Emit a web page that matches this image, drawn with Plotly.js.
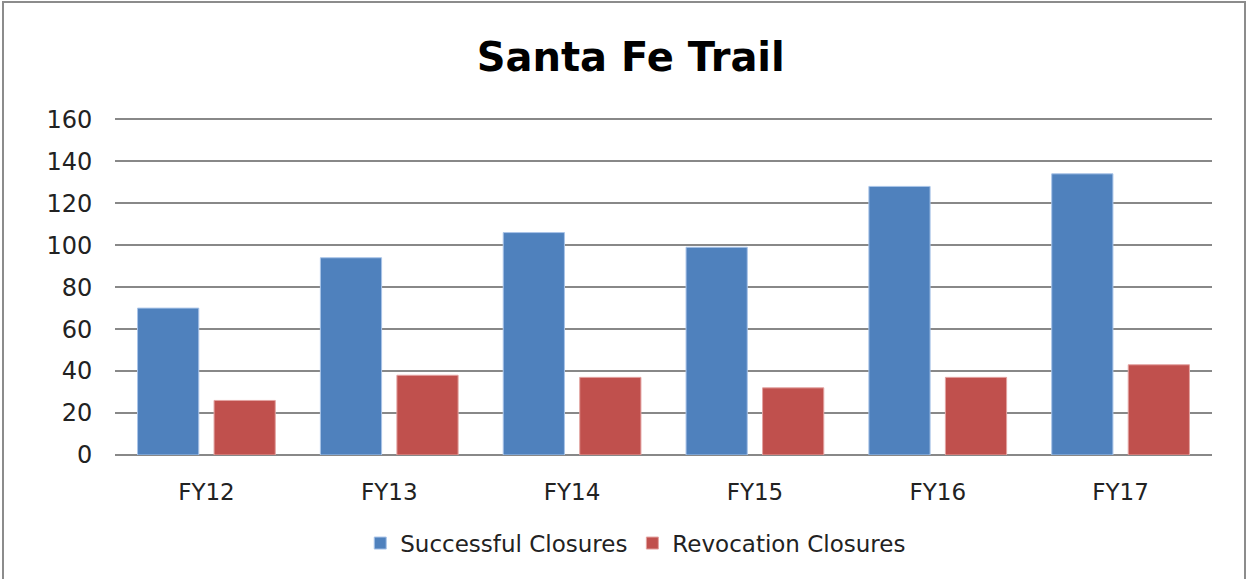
<!DOCTYPE html>
<html>
<head>
<meta charset="utf-8">
<script src="https://cdn.plot.ly/plotly-3.0.1.min.js"></script>
<style>
html,body{margin:0;padding:0;background:#fff;}
#frame{position:absolute;left:2px;top:1px;width:1244px;height:600px;border:2px solid #8c8c8c;box-sizing:border-box;}
#chart{position:absolute;left:0;top:0;width:1249px;height:579px;}
</style>
</head>
<body>
<div id="frame"></div>
<div id="chart"></div>
<script>
const categories = ["FY12","FY13","FY14","FY15","FY16","FY17"];
const successful = [70, 94, 106, 99, 128, 134];
const revocation = [26, 38, 37, 32, 37, 43];
const seriesNames = ["Successful Closures","Revocation Closures"];
const yTicks = [0,20,40,60,80,100,120,140,160];

const font = "'DejaVu Sans', sans-serif";
const traces = [
  {type:'bar', name:seriesNames[0], x:categories, y:successful,
   marker:{color:'#4f81bd', line:{color:'#a9c4e8', width:1}}},
  {type:'bar', name:seriesNames[1], x:categories, y:revocation,
   marker:{color:'#c0504d', line:{color:'#e3a3a1', width:1}}}
];
const layout = {
  width:1249, height:579,
  paper_bgcolor:'rgba(0,0,0,0)', plot_bgcolor:'rgba(0,0,0,0)',
  margin:{l:115, r:37, t:118, b:124},
  title:{text:'<b>Santa Fe Trail</b>', font:{family:font, size:40, color:'#000'},
         x:0.505, xanchor:'center', y:0.902, yref:'container', yanchor:'middle'},
  barmode:'group', bargap:0.163, bargroupgap:0.2,
  xaxis:{type:'category', showgrid:false, zeroline:false, showline:false,
         ticks:'outside', ticklen:16, tickcolor:'rgba(0,0,0,0)',
         tickfont:{family:font, size:23, color:'#222'}},
  yaxis:{range:[0,160.6], tickvals:yTicks, showgrid:true, gridcolor:'#888', gridwidth:2,
         zeroline:true, zerolinecolor:'#888', zerolinewidth:2, showline:false,
         ticks:'outside', ticklen:17, tickcolor:'rgba(0,0,0,0)',
         tickfont:{family:font, size:24, color:'#222'}},
  showlegend:true,
  legend:{orientation:'h', xref:'container', yref:'container', x:0.509, xanchor:'center',
          y:0.062, yanchor:'middle', font:{family:font, size:23, color:'#222'},
          itemwidth:30, traceorder:'normal', tracegroupgap:0},
  annotations:[]
};
Plotly.newPlot('chart', traces, layout, {displayModeBar:false, staticPlot:true});
</script>
</body>
</html>
